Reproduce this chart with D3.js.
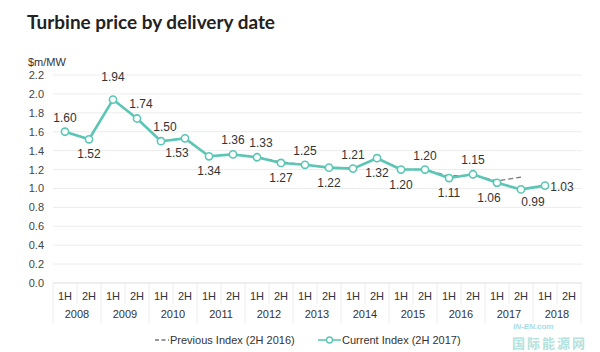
<!DOCTYPE html>
<html><head><meta charset="utf-8">
<script src="https://cdn.jsdelivr.net/npm/d3@7"></script>
<style>body{margin:0;background:#fff} svg{display:block}</style>
</head><body><svg id="c" width="600" height="352"></svg>
<script>
const years = ["2008","2009","2010","2011","2012","2013","2014","2015","2016","2017","2018"];
const halves = ["1H","2H"];
const categories = years.flatMap(y => halves.map(h => y + " " + h));
const currentIndex = [1.60,1.52,1.94,1.74,1.50,1.53,1.34,1.36,1.33,1.27,1.25,1.22,1.21,1.32,1.20,1.20,1.11,1.15,1.06,0.99,1.03];
const previousIndex = [1.60,1.52,1.94,1.74,1.50,1.53,1.34,1.36,1.33,1.28,1.25,1.22,1.21,1.32,1.20,1.20,1.13,1.14,1.08,1.12];
const yTicks = [0.0,0.2,0.4,0.6,0.8,1.0,1.2,1.4,1.6,1.8,2.0,2.2];
const labelPlacement = ["t","b","T","tr","tr","bl","b","t","tr","b","t","b","t","b","b","t","b","t","bl","br","r"];
const seriesNames = ["Previous Index (2H 2016)","Current Index (2H 2017)"];

const svg = d3.select("#c");
const font = "Helvetica, 'Liberation Sans', Arial, sans-serif";
const teal = "#5cc6b5";

const x = d3.scaleBand().domain(categories).range([53, 581]).padding(0);
const y = d3.scaleLinear().domain([0, 2.2]).range([283, 75]);
const cx = i => x(categories[i]) + x.bandwidth() / 2;

// title
svg.append("text").attr("x", 27).attr("y", 29)
  .attr("font-family", "Lato, 'Open Sans', sans-serif").attr("font-weight", 700)
  .attr("font-size", 19.5).attr("fill", "#222")
  .attr("textLength", 248).attr("lengthAdjust", "spacingAndGlyphs")
  .text("Turbine price by delivery date");
svg.append("text").attr("x", 28).attr("y", 66)
  .attr("font-family", font).attr("font-size", 11).attr("fill", "#333").text("$m/MW");

// grid
svg.append("g").selectAll("line").data(yTicks).join("line")
  .attr("x1", 53).attr("x2", 582).attr("y1", d => y(d)).attr("y2", d => y(d))
  .attr("stroke", d => d === 0 ? "#dcdcdc" : "#ececec").attr("stroke-width", 1);

// y axis labels
const yAxis = d3.axisLeft(y).tickValues(yTicks).tickFormat(d3.format(".1f")).tickSize(0).tickPadding(0);
const ya = svg.append("g").attr("transform", "translate(44,0)").call(yAxis);
ya.select(".domain").remove();
ya.selectAll("text").attr("font-family", font).attr("font-size", 11).attr("fill", "#444");

// x axis table
const xa = svg.append("g");
xa.selectAll("line.h").data(categories).join("line").attr("class", "h")
  .attr("x1", d => x(d)).attr("x2", d => x(d))
  .attr("y1", 283).attr("y2", (d, i) => i % 2 === 0 ? 323 : 304)
  .attr("stroke", "#ececec");
xa.append("line").attr("x1", 581).attr("x2", 581).attr("y1", 283).attr("y2", 323).attr("stroke", "#ececec");
xa.selectAll("text.h").data(categories).join("text").attr("class", "h")
  .attr("x", d => x(d) + x.bandwidth() / 2).attr("y", 296)
  .attr("text-anchor", "middle").attr("dominant-baseline", "central")
  .attr("font-family", font).attr("font-size", 11).attr("fill", "#333")
  .text(d => d.split(" ")[1]);
xa.selectAll("text.y").data(years).join("text").attr("class", "y")
  .attr("x", d => x(d + " 1H") + x.bandwidth()).attr("y", 314)
  .attr("text-anchor", "middle").attr("dominant-baseline", "central")
  .attr("font-family", font).attr("font-size", 11).attr("fill", "#333")
  .text(d => d);

// lines
const line = d3.line().x((d, i) => cx(i)).y(d => y(d));
svg.append("path").attr("d", line(previousIndex)).attr("fill", "none")
  .attr("stroke", "#777").attr("stroke-width", 1.4).attr("stroke-dasharray", "5,3");
svg.append("path").attr("d", line(currentIndex)).attr("fill", "none")
  .attr("stroke", teal).attr("stroke-width", 2.6).attr("stroke-linejoin", "round");
svg.append("g").selectAll("circle").data(currentIndex).join("circle")
  .attr("cx", (d, i) => cx(i)).attr("cy", d => y(d)).attr("r", 3.6)
  .attr("fill", "#fff").attr("stroke", teal).attr("stroke-width", 1.6);

// data labels
const off = {t:[0,-14], T:[0,-23], b:[0,15], tr:[4,-14], bl:[-8,15], br:[12,13], r:[17,1]};
svg.append("g").selectAll("text").data(currentIndex).join("text")
  .attr("x", (d, i) => cx(i) + off[labelPlacement[i]][0])
  .attr("y", (d, i) => y(d) + off[labelPlacement[i]][1])
  .attr("text-anchor", "middle").attr("dominant-baseline", "central")
  .attr("font-family", font).attr("font-size", 12).attr("fill", "#333")
  .text(d => d.toFixed(2));

// legend
const lg = svg.append("g");
lg.append("line").attr("x1", 155).attr("x2", 169).attr("y1", 340).attr("y2", 340)
  .attr("stroke", "#777").attr("stroke-width", 1.4).attr("stroke-dasharray", "4,2.5");
lg.append("text").attr("x", 170).attr("y", 340).attr("dominant-baseline", "central")
  .attr("font-family", font).attr("font-size", 11).attr("fill", "#333").text(seriesNames[0]);
lg.append("line").attr("x1", 318).attr("x2", 341).attr("y1", 340).attr("y2", 340)
  .attr("stroke", teal).attr("stroke-width", 1.6);
lg.append("circle").attr("cx", 329.5).attr("cy", 340).attr("r", 3)
  .attr("fill", "#fff").attr("stroke", teal).attr("stroke-width", 1.4);
lg.append("text").attr("x", 342).attr("y", 340).attr("dominant-baseline", "central")
  .attr("font-family", font).attr("font-size", 11).attr("fill", "#333").text(seriesNames[1]);

// watermark
svg.append("text").attr("x", 513).attr("y", 329).attr("font-family", font)
  .attr("font-size", 8).attr("font-style", "italic").attr("font-weight", 700)
  .attr("fill", "#8fd3df").attr("opacity", 0.8).text("IN-EN.com");
svg.append("text").attr("x", 512).attr("y", 347.5).attr("font-family", "'Noto Sans CJK SC', sans-serif")
  .attr("font-size", 13).attr("font-weight", 700).attr("fill", "#9bd8d0").attr("opacity", 0.75)
  .attr("letter-spacing", 2).text("国际能源网");
</script></body></html>
